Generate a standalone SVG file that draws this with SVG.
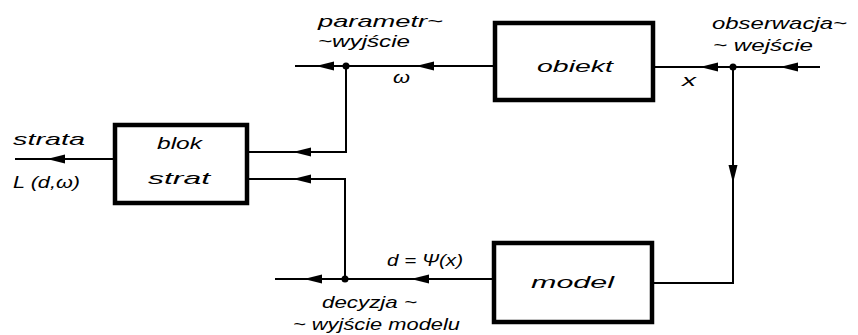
<svg xmlns="http://www.w3.org/2000/svg" xmlns:xlink="http://www.w3.org/1999/xlink" width="858" height="335" viewBox="0 0 858 335">
<style>
.box{fill:#fff;stroke:#000;stroke-width:4.5}
.ln{fill:none;stroke:#000;stroke-width:2}
text{font-family:"Liberation Sans","DejaVu Sans",sans-serif;font-style:italic;font-size:16.5px;fill:#000}
</style>
<defs>
<polygon id="ah" points="0,0 18,-4.5 18,4.5" fill="#000"/>
</defs>
<rect width="858" height="335" fill="#fff"/>
<g id="connectors">
<path class="ln" d="M820,67 H653"/>
<path class="ln" d="M495,66 H295"/>
<path class="ln" d="M733,67 V283 H652"/>
<path class="ln" d="M346,66 V152 H247"/>
<path class="ln" d="M493,279 H275"/>
<path class="ln" d="M345,279 V179 H247"/>
<path class="ln" d="M115,159 H15"/>
<circle cx="733" cy="67" r="3.5"/>
<circle cx="346" cy="66" r="3.5"/>
<circle cx="345" cy="279" r="3.5"/>
<use xlink:href="#ah" x="780" y="67"/>
<use xlink:href="#ah" x="700" y="67"/>
<use xlink:href="#ah" x="416" y="66"/>
<use xlink:href="#ah" x="316" y="66"/>
<use xlink:href="#ah" x="293" y="152"/>
<use xlink:href="#ah" x="293" y="179"/>
<use xlink:href="#ah" x="411" y="279"/>
<use xlink:href="#ah" x="304" y="279"/>
<use xlink:href="#ah" x="47" y="159"/>
<use xlink:href="#ah" transform="translate(733,183) rotate(-90)"/>
</g>
<g id="obiekt">
<rect class="box" x="495" y="23" width="158" height="77"/>
<text x="537" y="72" textLength="76" lengthAdjust="spacingAndGlyphs">obiekt</text>
</g>
<g id="model">
<rect class="box" x="494" y="243" width="158" height="79"/>
<text x="531" y="288" textLength="83" lengthAdjust="spacingAndGlyphs">model</text>
</g>
<g id="blok-strat">
<rect class="box" x="115" y="125" width="132" height="78"/>
<text x="157" y="149" textLength="45" lengthAdjust="spacingAndGlyphs">blok</text>
<text x="148" y="184" textLength="62" lengthAdjust="spacingAndGlyphs">strat</text>
</g>
<g id="labels">
<text x="318" y="27" textLength="125" lengthAdjust="spacingAndGlyphs">parametr~</text>
<text x="318" y="47" textLength="92" lengthAdjust="spacingAndGlyphs">~wyjście</text>
<text x="712" y="29" textLength="135" lengthAdjust="spacingAndGlyphs">obserwacja~</text>
<text x="713" y="51" textLength="100" lengthAdjust="spacingAndGlyphs">~ wejście</text>
<text x="393" y="83" textLength="17" lengthAdjust="spacingAndGlyphs">ω</text>
<text x="682" y="86" textLength="14" lengthAdjust="spacingAndGlyphs">x</text>
<text x="13" y="145" textLength="72" lengthAdjust="spacingAndGlyphs">strata</text>
<text x="13" y="188" textLength="67" lengthAdjust="spacingAndGlyphs">L (d,ω)</text>
<text x="387" y="266" textLength="76" lengthAdjust="spacingAndGlyphs">d = Ψ(x)</text>
<text x="322" y="308" textLength="95" lengthAdjust="spacingAndGlyphs">decyzja ~</text>
<text x="293" y="330" textLength="167" lengthAdjust="spacingAndGlyphs">~ wyjście modelu</text>
</g>
</svg>
